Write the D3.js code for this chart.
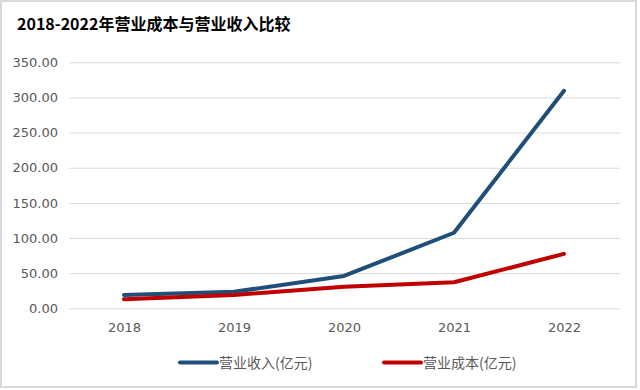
<!DOCTYPE html>
<html><head><meta charset="utf-8">
<script src="https://cdn.jsdelivr.net/npm/d3@7"></script>
<style>body{margin:0;background:#fff}svg{display:block}</style>
</head><body>
<script>
const categories = ["2018","2019","2020","2021","2022"];
const revenue = [19.0, 23.5, 46.0, 107.5, 309.5];
const cost = [13.0, 19.0, 30.5, 37.0, 77.5];
const yTicks = [0,50,100,150,200,250,300,350];
const seriesNames = ["营业收入(亿元)","营业成本(亿元)"];
const colors = ["#1f4e79","#c00000"];

const W=640,H=390;
const svg=d3.select("body").append("svg").attr("width",W).attr("height",H);
svg.append("rect").attr("x",1).attr("y",1).attr("width",635).attr("height",386).attr("fill","#fff").attr("stroke","#d9d9d9").attr("stroke-width",2);

svg.append("text").attr("x",17).attr("y",30).text("2018-2022年营业成本与营业收入比较")
  .attr("font-family","'Noto Sans CJK SC'").attr("font-weight","bold").attr("font-size",16).attr("fill","#000");

const x=d3.scalePoint().domain(categories).range([69,619]).padding(0.5);
const y=d3.scaleLinear().domain([0,350]).range([308.3,62.3]);
const font="'Noto Sans CJK SC', 'Liberation Sans', sans-serif";

const yAxis=svg.append("g").attr("transform","translate(69,0)")
  .call(d3.axisLeft(y).tickValues(yTicks).tickSize(-551).tickFormat(d3.format(".2f")).tickPadding(11));
yAxis.select(".domain").remove();
yAxis.selectAll("line").attr("stroke","#d9d9d9").attr("stroke-width",1);
yAxis.selectAll("text").attr("font-family","'DejaVu Sans', sans-serif").attr("font-size",13).attr("fill","#595959");

const xAxis=svg.append("g").attr("transform","translate(0,308.3)")
  .call(d3.axisBottom(x).tickSize(0).tickPadding(14));
xAxis.select(".domain").remove();
xAxis.selectAll("text").attr("font-family","'DejaVu Sans', sans-serif").attr("font-size",13).attr("fill","#595959");

const line=d3.line().x((d,i)=>x(categories[i])).y(d=>y(d));
[revenue,cost].forEach((s,i)=>{
  svg.append("path").datum(s).attr("d",line).attr("fill","none")
    .attr("stroke",colors[i]).attr("stroke-width",4).attr("stroke-linejoin","round").attr("stroke-linecap","round");
});

const legX=[180,384];
seriesNames.forEach((n,i)=>{
  const g=svg.append("g").attr("transform",`translate(${legX[i]},362.5)`);
  g.append("line").attr("x1",0).attr("x2",37).attr("y1",0).attr("y2",0).attr("stroke",colors[i]).attr("stroke-width",4).attr("stroke-linecap","round");
  g.append("text").attr("x",39).attr("y",5).text(n).attr("font-family",font).attr("font-size",14).attr("fill","#595959");
});
</script>
</body></html>
